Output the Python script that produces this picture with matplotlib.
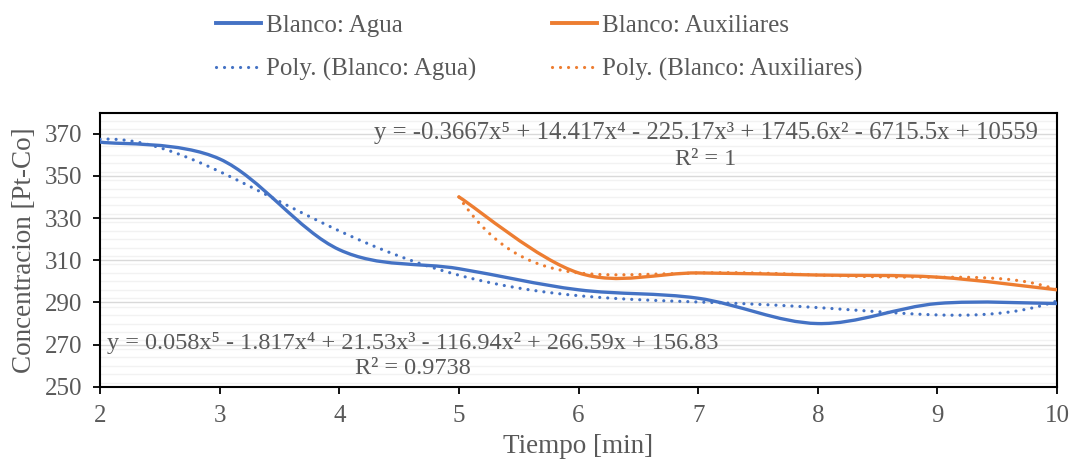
import numpy as np
import matplotlib
matplotlib.use('Agg')
import matplotlib.pyplot as plt
from matplotlib.path import Path
from matplotlib.patches import PathPatch
from matplotlib.lines import Line2D
from matplotlib.ticker import MultipleLocator

# data
tiempo_agua = [2, 3, 4, 5, 6, 7, 8, 9, 10]
conc_agua = [366, 358, 315, 306, 296, 292, 280, 289.5, 289.5]
tiempo_aux = [5, 6, 7, 8, 9, 10]
conc_aux = [340, 304, 304, 303, 302, 296]

eq_agua = "y = 0.058x⁵ - 1.817x⁴ + 21.53x³ - 116.94x² + 266.59x + 156.83"
r2_agua = "R² = 0.9738"
eq_aux = "y = -0.3667x⁵ + 14.417x⁴ - 225.17x³ + 1745.6x² - 6715.5x + 10559"
r2_aux = "R² = 1"

AZUL = '#4472C4'
NARANJA = '#ED7D31'
GRIS = '#595959'

plt.rcParams['font.family'] = ['Liberation Serif', 'DejaVu Serif']


def smooth_path(x, y):
    # Excel-like smoothed line: cubic Bezier segments through the points
    pts = np.column_stack([x, y]).astype(float)
    n = len(pts)
    verts = [pts[0]]
    codes = [Path.MOVETO]
    for i in range(n - 1):
        p0 = pts[max(i - 1, 0)]
        p1 = pts[i]
        p2 = pts[i + 1]
        p3 = pts[min(i + 2, n - 1)]
        verts += [p1 + (p2 - p0) / 6, p2 - (p3 - p1) / 6, p2]
        codes += [Path.CURVE4] * 3
    return Path(verts, codes)


fig = plt.figure(figsize=(10.7, 4.65), dpi=100)
ax = fig.add_axes([0.0935, 0.168, 0.8944, 0.590])

dotted = (0, (0.01, 2.5))

for x, y, col in [(tiempo_agua, conc_agua, AZUL), (tiempo_aux, conc_aux, NARANJA)]:
    ax.add_patch(PathPatch(smooth_path(x, y), fill=False, edgecolor=col,
                           lw=2.4, capstyle='round', zorder=3))
    coef = np.polyfit(x, y, 5)
    xs = np.linspace(min(x), max(x), 300)
    ax.plot(xs, np.polyval(coef, xs), color=col, lw=2.3, linestyle=dotted,
            dash_capstyle='round', zorder=4)

ax.set_xlim(2, 10)
ax.set_ylim(250, 380)
ax.xaxis.set_major_locator(MultipleLocator(1))
ax.set_yticks(np.arange(250, 371, 20))
ax.yaxis.set_minor_locator(MultipleLocator(4))
ax.grid(axis='y', which='major', color='#D9D9D9', lw=1.0, zorder=0)
ax.grid(axis='y', which='minor', color='#F2F2F2', lw=1.0, zorder=0)
ax.set_axisbelow(True)

for s in ax.spines.values():
    s.set_color('black')
    s.set_linewidth(1.5)
ax.tick_params(axis='both', which='major', direction='out', length=5, width=1.3,
               color='black', labelcolor=GRIS, labelsize=18, pad=8)
ax.tick_params(axis='y', which='minor', length=0)

ax.set_xlabel('Tiempo [min]', fontsize=19.5, color=GRIS)
ax.xaxis.set_label_coords(0.5, -0.17)
ax.set_ylabel('Concentracion [Pt-Co]', fontsize=19.5, color=GRIS)
ax.yaxis.set_label_coords(-0.066, 0.5)

ax.text(0.327, 0.16, eq_agua, transform=ax.transAxes, ha='center', va='center',
        fontsize=17.5, color=GRIS)
ax.text(0.327, 0.068, r2_agua, transform=ax.transAxes, ha='center', va='center',
        fontsize=17.5, color=GRIS)
ax.text(0.633, 0.926, eq_aux, transform=ax.transAxes, ha='center', va='center',
        fontsize=17.8, color=GRIS)
ax.text(0.633, 0.827, r2_aux, transform=ax.transAxes, ha='center', va='center',
        fontsize=17.5, color=GRIS)

handles = [
    Line2D([], [], color=AZUL, lw=2.8),
    Line2D([], [], color=AZUL, lw=2.3, linestyle=dotted, dash_capstyle='round'),
    Line2D([], [], color=NARANJA, lw=2.8),
    Line2D([], [], color=NARANJA, lw=2.3, linestyle=dotted, dash_capstyle='round'),
]
labels = ['Blanco: Agua', 'Poly. (Blanco: Agua)', 'Blanco: Auxiliares',
          'Poly. (Blanco: Auxiliares)']
leg = fig.legend(handles, labels, loc='center', bbox_to_anchor=(0.504, 0.898),
                 ncol=2, frameon=False, fontsize=18, handlelength=1.8,
                 handletextpad=0.2, columnspacing=3.0, labelspacing=0.85)
for t in leg.get_texts():
    t.set_color(GRIS)

fig.savefig('out.png', dpi=100)
